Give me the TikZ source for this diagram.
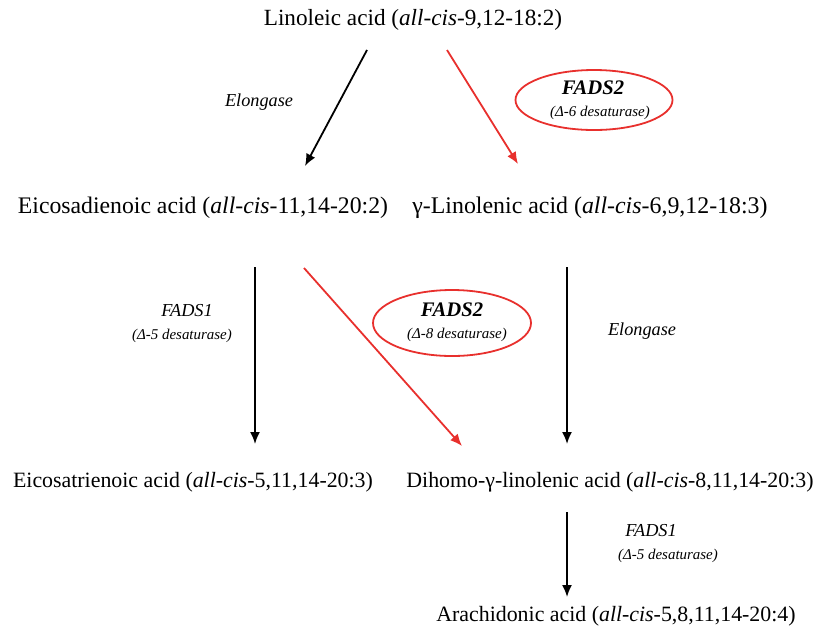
\documentclass[tikz,border=0pt]{standalone}
\usepackage{fontspec}
\setmainfont{Liberation Serif}
\usetikzlibrary{arrows.meta}
\definecolor{fadsred}{RGB}{232,48,45}
\tikzset{
  acid/.style={font=\fontsize{17.4}{20}\selectfont, inner sep=0pt},
  acidS/.style={font=\fontsize{16.4}{19}\selectfont, inner sep=0pt},
  enz/.style={font=\fontsize{13.7}{16}\selectfont\itshape, inner sep=0pt},
  fads/.style={font=\fontsize{15.5}{18}\selectfont\bfseries\itshape, inner sep=0pt},
  delta/.style={font=\fontsize{11.2}{13}\selectfont\itshape, inner sep=0pt},
  rxn/.style={line width=1.35pt, -{Latex[length=9pt,width=7.5pt]}},
  ring/.style={draw=fadsred, line width=1.35pt}
}
\begin{document}
\begin{tikzpicture}[x=0.75pt,y=-0.75pt]
\useasboundingbox (0,0) rectangle (816,629);
\node[acid] (lin) at (413,20) {Linoleic acid (\textit{all}-\textit{cis}-9,12-18:2)};
\node[acid, font=\fontsize{17.8}{20}\selectfont] (eda) at (203,208) {Eicosadienoic acid (\textit{all}-\textit{cis}-11,14-20:2)};
\node[acid, font=\fontsize{17.9}{20}\selectfont] (gla) at (590,208) {γ-Linolenic acid (\textit{all}-\textit{cis}-6,9,12-18:3)};
\node[acidS] (ete) at (193,482) {Eicosatrienoic acid (\textit{all}-\textit{cis}-5,11,14-20:3)};
\node[acidS] (dgla) at (610,482) {Dihomo-γ-linolenic acid (\textit{all}-\textit{cis}-8,11,14-20:3)};
\node[acidS] (ara) at (616,616) {Arachidonic acid (\textit{all}-\textit{cis}-5,8,11,14-20:4)};

\coordinate (linL) at (367,50); \coordinate (edaT) at (305,166);
\coordinate (linR) at (447,50); \coordinate (glaT) at (518,164);
\coordinate (edaB) at (255,267); \coordinate (eteT) at (255,444);
\coordinate (edaR) at (304,268); \coordinate (dglaL) at (462,446);
\coordinate (glaB) at (567,267); \coordinate (dglaT) at (567,444);
\coordinate (dglaB) at (567,512); \coordinate (araT) at (567,597);

\draw[rxn] (linL) -- (edaT);
\draw[rxn, fadsred] (linR) -- (glaT);
\draw[rxn] (edaB) -- (eteT);
\draw[rxn, fadsred] (edaR) -- (dglaL);
\draw[rxn] (glaB) -- (dglaT);
\draw[rxn] (dglaB) -- (araT);

\node[enz] (elo1) at (259,102) {Elongase};
\node[enz] (elo2) at (642,331) {Elongase};

\draw[ring] (594,100) ellipse [x radius=78.5, y radius=30];
\node[fads] (f2a) at (593,88) {FADS2};
\node[delta] (d6) at (600,113) {(Δ-6 desaturase)};
\draw[ring] (452,323) ellipse [x radius=79, y radius=33];
\node[fads] (f2b) at (452,310) {FADS2};
\node[delta] (d8) at (457,335) {(Δ-8 desaturase)};

\node[enz] (f1a) at (187,311) {FADS1};
\node[delta] (d5a) at (182,336) {(Δ-5 desaturase)};
\node[enz] (f1b) at (651,531) {FADS1};
\node[delta] (d5b) at (668,556) {(Δ-5 desaturase)};
\end{tikzpicture}
\end{document}
